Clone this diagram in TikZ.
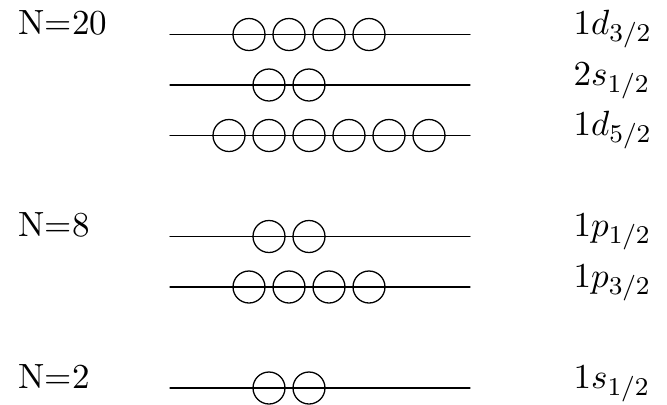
\documentclass[tikz,border=0pt,11pt]{standalone}
\usetikzlibrary{calc}

\begin{document}
\begin{tikzpicture}[x=0.3125pt, y=-0.3125pt, line join=round, line cap=round,
    level/.style={thin, black},
    nucleon/.style={thin, black},
    magic/.style={anchor=base west, inner sep=0pt},
    orbit/.style={anchor=base west, inner sep=0pt}]
    \useasboundingbox (0,0) rectangle (667,404);

    % 幻数 N
    \node[magic] (N20) at (18,34.5) {N=20};
    \node[magic] (N8) at (18,236.5) {N=8};
    \node[magic] (N2) at (18,388) {N=2};

    % 能级 (横线) 与其上的核子 (圆圈)
    \foreach \lv/\y/\cs/\lab in {
        d3/34.5/{249,289,329,369}/{1d_{3/2}},
        s2/85/{269,309}/{2s_{1/2}},
        d5/135.5/{229,269,309,349,389,429}/{1d_{5/2}},
        p1/236.5/{269,309}/{1p_{1/2}},
        p3/287/{249,289,329,369}/{1p_{3/2}},
        s1/388/{269,309}/{1s_{1/2}}}{
        \coordinate (\lv-l) at (170,\y);
        \coordinate (\lv-r) at (470,\y);
        \draw[level] (\lv-l) -- (\lv-r);
        \foreach \c in \cs
            \draw[nucleon] (\c,\y) circle (5pt);
        \node[orbit] (\lv) at (573,\y) {$\lab$};
    }
\end{tikzpicture}
\end{document}
